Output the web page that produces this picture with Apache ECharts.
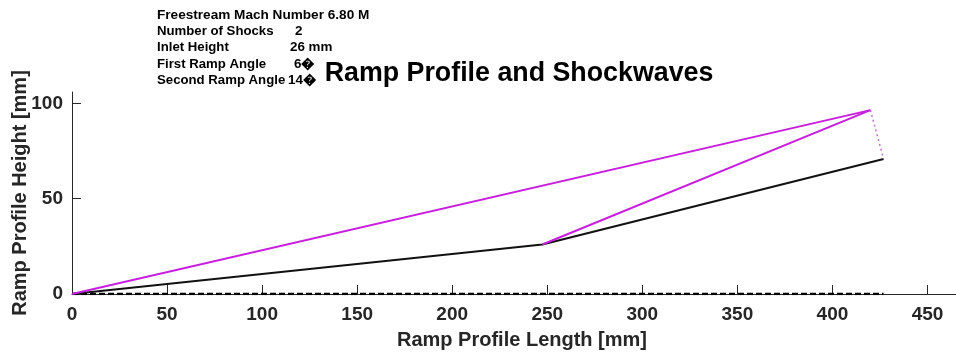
<!DOCTYPE html>
<html>
<head>
<meta charset="utf-8">
<script src="https://cdn.jsdelivr.net/npm/echarts@6/dist/echarts.min.js"></script>
<style>
  html, body { margin: 0; padding: 0; background: #fff; }
  #chart { width: 956px; height: 352px; }
</style>
</head>
<body>
<div id="chart"></div>
<script>
// Ramp geometry [mm]: leading edge, first ramp end, second ramp end
const rampX = [0, 247.4, 426.9];
const rampY = [0, 26, 70.8];
// Oblique shocks from each ramp corner to the focal point at the cowl lip
const shock1X = [0, 420];
const shock1Y = [0, 96.5];
const shock2X = [247.4, 420];
const shock2Y = [26, 96.5];
// Inlet opening (cowl lip to ramp end)
const inletX = [420, 426.9];
const inletY = [96.5, 70.8];
// Reference baseline
const baseX = [0, 426.9];
const baseY = [0, 0];

const xTicks = [0, 50, 100, 150, 200, 250, 300, 350, 400, 450];
const yTicks = [0, 50, 100];

const infoLabels = ['Freestream Mach Number 6.80 M', 'Number of Shocks', 'Inlet Height', 'First Ramp Angle', 'Second Ramp Angle'];
const infoValues = ['', '2', '26 mm', '6\uFFFD', '14\uFFFD'];
const infoValueX = [0, 295, 290, 294, 288];
const titleText = 'Ramp Profile and Shockwaves';
const xName = 'Ramp Profile Length [mm]';
const yName = 'Ramp Profile Height [mm]';

const pairs = (xs, ys) => xs.map((x, i) => [x, ys[i]]);
const FONT = '"Liberation Sans", Arial, Helvetica, sans-serif';
const MAGENTA = '#c81ede';

const graphics = [];
infoLabels.forEach((t, i) => {
  const y = 15 + i * 16.4;
  const size = i === 0 ? 13.6 : 13.2;
  graphics.push({ type: 'text', x: 157, y: y, style: { text: t, font: 'bold ' + size + 'px ' + FONT, fill: '#000', verticalAlign: 'middle' } });
  if (infoValues[i]) {
    graphics.push({ type: 'text', x: infoValueX[i], y: y, style: { text: infoValues[i], font: 'bold 13.4px ' + FONT, fill: '#000', verticalAlign: 'middle' } });
  }
});
graphics.push({ type: 'text', x: 519, y: 74, style: { text: titleText, font: 'bold 26.8px ' + FONT, fill: '#000', align: 'center', verticalAlign: 'middle' } });

const axisCommon = {
  type: 'value',
  nameLocation: 'middle',
  nameMoveOverlap: false,
  nameTextStyle: { fontFamily: FONT, fontWeight: 'bold', fontSize: 20, color: '#262626' },
  axisLine: { show: true, lineStyle: { color: '#262626', width: 1 } },
  axisTick: { show: true, inside: true, length: 9, lineStyle: { color: '#262626', width: 1 } },
  axisLabel: { fontFamily: FONT, fontWeight: 'bold', fontSize: 19, color: '#262626' },
  splitLine: { show: false }
};

const chart = echarts.init(document.getElementById('chart'), null, { renderer: 'canvas' });
chart.setOption({
  animation: false,
  backgroundColor: '#fff',
  grid: { left: 72, right: 0, top: 92, bottom: 58, containLabel: false, outerBoundsMode: 'none' },
  graphic: graphics,
  xAxis: Object.assign({}, axisCommon, {
    min: 0, max: 465, interval: 50,
    name: xName, nameGap: 36,
    nameTextStyle: Object.assign({}, axisCommon.nameTextStyle, { padding: [0, 0, 0, 16] }),
    axisTick: Object.assign({}, axisCommon.axisTick, { customValues: xTicks }),
    axisLabel: Object.assign({}, axisCommon.axisLabel, { customValues: xTicks, margin: 11 })
  }),
  yAxis: Object.assign({}, axisCommon, {
    min: 0, max: 106, interval: 50,
    name: yName, nameGap: 42,
    axisTick: Object.assign({}, axisCommon.axisTick, { customValues: yTicks }),
    axisLabel: Object.assign({}, axisCommon.axisLabel, { customValues: yTicks, margin: 9 })
  }),
  series: [
    { type: 'line', data: pairs(baseX, baseY), symbol: 'none', z: 3,
      lineStyle: { color: '#000', width: 2.5, type: [6, 3] } },
    { type: 'line', data: pairs(rampX, rampY), symbol: 'none', z: 4,
      lineStyle: { color: '#111', width: 2 } },
    { type: 'line', data: pairs(shock1X, shock1Y), symbol: 'none', z: 5,
      lineStyle: { color: MAGENTA, width: 2 } },
    { type: 'line', data: pairs(shock2X, shock2Y), symbol: 'none', z: 5,
      lineStyle: { color: MAGENTA, width: 2 } },
    { type: 'line', data: pairs(inletX, inletY), symbol: 'none', z: 5,
      lineStyle: { color: '#c070d0', width: 1.5, type: [2, 3] } }
  ]
});
</script>
</body>
</html>
